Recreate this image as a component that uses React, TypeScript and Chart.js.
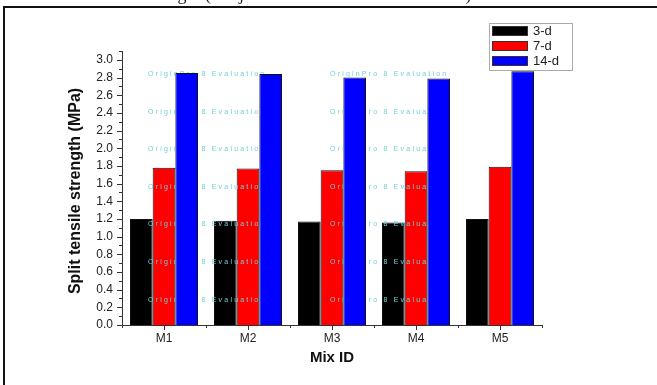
import React, { useEffect, useRef } from "react";
import { Chart, registerables } from "chart.js";

Chart.register(...registerables);

const categories = ["M1", "M2", "M3", "M4", "M5"];
const seriesLabels = ["3-d", "7-d", "14-d"];
const day3 = [1.2, 1.18, 1.17, 1.16, 1.2];
const day7 = [1.78, 1.77, 1.75, 1.74, 1.79];
const day14 = [2.85, 2.84, 2.8, 2.79, 2.87];
const seriesColors = ["#000000", "#ff0000", "#0000ff"];
const yAxisTitle = "Split tensile strength (MPa)";
const xAxisTitle = "Mix ID";
const captionText = "Variation of tensile strength (Subject to time of water immersion)";
const watermarkText = "OriginPro 8 Evaluation";

const FONT = "'Liberation Sans', Arial, sans-serif";

const decor = {
  id: "decor",
  beforeDraw(chart: any) {
    const { ctx, width, height } = chart;
    ctx.save();
    ctx.fillStyle = "#ffffff";
    ctx.fillRect(0, 0, width, height);
    // frame
    ctx.fillStyle = "#111";
    ctx.fillRect(3, 6, 2, height);
    ctx.fillRect(3, 6, width, 2);
    // cut-off caption
    ctx.font = "18px 'Liberation Serif', 'Times New Roman', serif";
    ctx.fillStyle = "#222";
    ctx.textBaseline = "alphabetic";
    const idx = captionText.indexOf("(");
    const pre = ctx.measureText(captionText.slice(0, idx)).width;
    ctx.fillText(captionText, 205 - pre, 0);
    ctx.restore();
  },
  afterDatasetsDraw(chart: any) {
    const { ctx, chartArea, width, height } = chart;
    ctx.save();
    // watermark shows over black/red bars but is hidden behind the blue ones
    ctx.beginPath();
    ctx.rect(0, 0, width, height);
    chart.getDatasetMeta(2).data.forEach((b: any) => {
      const p = b.getProps(["x", "y", "width", "base"], true);
      ctx.rect(p.x - p.width / 2, p.y, p.width, p.base - p.y);
    });
    ctx.clip("evenodd");
    ctx.font = `7px ${FONT}`;
    (ctx as any).letterSpacing = "2.2px";
    ctx.fillStyle = "#70d0da";
    ctx.textBaseline = "middle";
    for (let c = 0; c < 2; c++) {
      for (let r = 0; r < 7; r++) {
        ctx.fillText(watermarkText, chartArea.left + 26 + c * 182, chartArea.top + 23 + r * 37.6);
      }
    }
    ctx.restore();
  },
  afterDraw(chart: any) {
    const { ctx, chartArea } = chart;
    const y = chart.scales.y;
    const x = chart.scales.x;
    ctx.save();
    ctx.strokeStyle = "#333";
    ctx.lineWidth = 1;
    // y ticks
    ctx.beginPath();
    y.ticks.forEach((t: any) => {
      const major = Math.round(t.value * 10) % 2 === 0;
      const py = Math.round(y.getPixelForValue(t.value)) + 0.5;
      ctx.moveTo(chartArea.left, py);
      ctx.lineTo(chartArea.left - (major ? 5 : 3), py);
    });
    // x ticks
    const n = chart.data.labels.length;
    for (let i = 0; i < n; i++) {
      const px = Math.round(x.getPixelForValue(i)) + 0.5;
      ctx.moveTo(px, chartArea.bottom);
      ctx.lineTo(px, chartArea.bottom + 5);
    }
    for (let i = 0; i <= n; i++) {
      const px = Math.round(x.getPixelForValue(i - 0.5)) + 0.5;
      ctx.moveTo(px, chartArea.bottom);
      ctx.lineTo(px, chartArea.bottom + 3);
    }
    ctx.stroke();

    // titles
    ctx.fillStyle = "#111";
    ctx.font = `bold 15px ${FONT}`;
    ctx.textAlign = "center";
    ctx.textBaseline = "middle";
    ctx.fillText(xAxisTitle, (chartArea.left + chartArea.right) / 2, chartArea.bottom + 33);
    ctx.save();
    ctx.translate(chartArea.left - 46, (chartArea.top + chartArea.bottom) / 2 + 3);
    ctx.rotate(-Math.PI / 2);
    ctx.font = `bold 16px ${FONT}`;
    ctx.fillText(yAxisTitle, 0, 0);
    ctx.restore();

    // legend
    const lx = 489, ly = 23;
    ctx.fillStyle = "#fff";
    ctx.fillRect(lx, ly, 83, 47);
    ctx.strokeStyle = "#aaa";
    ctx.strokeRect(lx + 0.5, ly + 0.5, 83, 47);
    ctx.font = `13px ${FONT}`;
    ctx.textAlign = "left";
    chart.data.datasets.forEach((ds: any, i: number) => {
      const ry = ly + 3 + i * 15;
      ctx.fillStyle = ds.backgroundColor;
      ctx.fillRect(lx + 3, ry, 36, 10);
      ctx.strokeStyle = "#333";
      ctx.strokeRect(lx + 3.5, ry + 0.5, 35, 9);
      ctx.fillStyle = "#222";
      ctx.fillText(ds.label, lx + 44, ry + 5.5);
    });
    ctx.restore();
  },
};

export default function App() {
  const ref = useRef<HTMLCanvasElement | null>(null);
  useEffect(() => {
    if (!ref.current) return;
    const series = [day3, day7, day14];
    const chart = new Chart(ref.current, {
      type: "bar",
      data: {
        labels: categories,
        datasets: series.map((d, i) => ({
          label: seriesLabels[i],
          data: d,
          backgroundColor: seriesColors[i],
          borderColor: "#111",
          borderWidth: 1,
          categoryPercentage: 0.81,
          barPercentage: 1,
        })),
      },
      options: {
        responsive: false,
        animation: false,
        layout: { padding: { top: 51, right: 115, left: 0, bottom: 0 } },
        plugins: { legend: { display: false }, tooltip: { enabled: false } },
        scales: {
          x: {
            type: "category",
            offset: true,
            grid: { display: false, drawTicks: false, offset: true },
            border: { display: true, color: "#333", width: 1 },
            ticks: { color: "#222", font: { size: 12, family: FONT }, padding: 6 },
            afterFit: (s: any) => {
              s.height = 60;
            },
          },
          y: {
            min: 0,
            max: 3.1,
            grid: { display: false, drawTicks: false },
            border: { display: true, color: "#333", width: 1 },
            ticks: {
              stepSize: 0.1,
              autoSkip: false,
              color: "#222",
              font: { size: 12, family: FONT },
              padding: 9,
              callback: (v: any) => {
                const k = Math.round(Number(v) * 10);
                return k % 2 === 0 && k <= 30 ? (k / 10).toFixed(1) : "";
              },
            },
            afterFit: (s: any) => {
              s.width = 122;
            },
          },
        },
      },
      plugins: [decor],
    });
    return () => chart.destroy();
  }, []);
  return (
    <div style={{ position: "fixed", left: 0, top: 0, width: 657, height: 385, background: "#fff" }}>
      <canvas ref={ref} width={657} height={385} style={{ display: "block" }} />
    </div>
  );
}
